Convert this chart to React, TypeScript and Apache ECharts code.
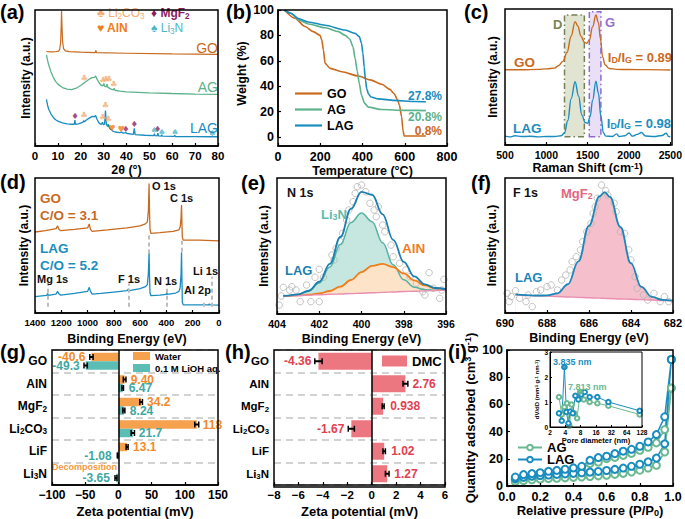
import { useEffect, useRef } from 'react';
import * as echarts from 'echarts';

const FONT = '"Liberation Sans", Arial, Helvetica, sans-serif';

const C_GO = '#c96a1e';
const C_AG = '#5db28b';
const C_LAG = '#1a8dc0';

// ---------- (a) XRD ----------
const xrdGO = [[5,69.5],[7,69.2],[9,69.3],[10.3,69.8],[10.8,71],[11.2,76],[11.45,88],[11.6,99.5],[11.8,88],[12.05,77],[12.5,71.5],[13.3,70],[15,69.4],[20,69],[26.3,68.6],[26.6,70.2],[26.9,68.6],[40,68.2],[60,67.7],[80,67.3]];
const xrdAG = [[5,67],[5.5,63],[6,59.5],[7,54.5],[8,50.5],[9,47.5],[10,45.5],[12,43],[14,41.8],[16,41.5],[18,42.5],[20,44.5],[22,47],[24,49.5],[25,50.3],[26,50.5],[26.5,51.5],[27,49.5],[28,46.5],[29,44.5],[29.8,44.5],[30.1,46],[30.4,44],[31.2,43.5],[31.5,45.5],[31.8,43.3],[33,42],[34.3,41.3],[34.6,42.5],[35,41],[37,40.3],[40,39.8],[50,39.1],[60,38.6],[70,38.2],[80,37.9]];
const xrdLAG = [[5,34.3],[5.5,30],[6,27],[7,23.5],[8,21],[9,19.3],[10,18.3],[12,17],[14,16.3],[16,16],[17.2,16],[17.45,19],[17.7,16],[19,16.3],[21,17.5],[21.3,18.8],[21.6,17.8],[23,19.8],[25,21.8],[26,21.5],[26.5,22.5],[27,20],[28,16.8],[29,15.8],[29.5,17.5],[29.9,15.6],[30.4,16],[30.8,26],[31.2,15.8],[31.7,14.3],[32,16],[32.4,13.8],[33,12.3],[33.5,12],[34,11],[35,10.3],[37,9.8],[37.8,10.2],[38.5,9.5],[39.7,9.8],[40.3,9.2],[43,8.6],[43.4,13],[43.8,8.4],[48,7.9],[51.9,7.6],[52.2,9],[52.5,7.6],[53.4,7.5],[53.7,9.5],[54,7.4],[55.1,7.3],[55.4,8.2],[55.7,7.2],[60.8,7.1],[61.1,7.8],[61.4,7],[70,6.9],[77.2,6.8],[77.5,7.3],[77.8,6.8],[80,6.8]];
const xrdLi2CO3 = [[21.6,50],[29.8,48.5],[31.1,49],[32.4,49],[34.4,45.5],[21.4,22.5],[29.6,21.5],[30.9,30],[32.1,20]];
const xrdMgF2 = [[17.5,22],[39.7,12.5],[43.4,16.5],[53.6,12.5]];
const xrdAlN = [[33.6,13.5],[37.7,12.5]];
const xrdLi3N = [[52.2,12],[55.4,10.5],[61.2,10],[77.5,9.5]];

// ---------- (b) TGA ----------
const tgaGO = [[30,100],[80,93.5],[128,87],[167,83],[199,80],[207,76.5],[215,68.5],[223,58],[247,54],[302,51.4],[381,48],[436,45],[491,41.5],[530,37.5],[550,34],[565,29.5],[575,25],[585,16],[592,5],[597,0.8],[700,0.8]];
const tgaAG = [[30,100],[60,97.5],[100,92],[144,89],[223,86],[286,83],[318,80],[340,77],[355,71],[365,62],[375,52],[385,42],[395,33],[410,26.5],[428,23.5],[491,21.6],[600,21],[700,20.8]];
const tgaLAG = [[30,100],[60,97.5],[100,93],[144,90.6],[223,88],[318,84.2],[365,81.6],[385,79],[395,74],[402,66],[408,55],[414,45],[420,38],[428,34],[440,31.5],[475,30],[550,28.8],[650,28],[700,27.8]];
const tgaResidue = ['27.8%', '20.8%', '0.8%'];

// ---------- (c) Raman ----------
const ramanGO = [[500,55.3],[700,55.3],[900,55.6],[1000,56],[1100,56.5],[1150,58.5],[1200,61.5],[1250,68],[1300,80],[1348,90.7],[1380,87.5],[1420,80],[1460,75.5],[1488,74.8],[1520,77],[1560,87],[1600,95.6],[1630,90],[1655,78],[1680,65],[1710,59],[1760,56.3],[1850,55.6],[2000,55.5],[2200,55.4],[2500,55.2]];
const ramanLAG = [[500,6.5],[560,6],[620,6.8],[700,6.2],[800,6.4],[900,6],[1000,6.3],[1100,6.2],[1180,6.8],[1220,9],[1260,18],[1300,34],[1348,46.5],[1390,36],[1430,22],[1470,16.5],[1500,15.9],[1530,21],[1560,33],[1600,47],[1630,38],[1660,21],[1690,9],[1720,6.5],[1800,6.3],[1850,8.2],[1880,6.2],[1950,6.8],[2000,8.8],[2040,6.5],[2100,7.8],[2150,9.2],[2200,6.6],[2300,6.2],[2400,7],[2450,8.6],[2480,6.2],[2500,6]];
const ramanBandD = [1220, 1460, 6.1, 95.6];
const ramanBandG = [1520, 1660, 6.1, 98];
const ramanRatio = ['0.89', '0.98'];

// ---------- (d) XPS survey ----------
const xpsGO = [[1400,60],[1320,61],[1240,62.5],[1228,64.5],[1218,62],[1205,61],[1100,62],[1000,63],[987,66],[978,62],[965,60.5],[850,61.5],[700,63],[600,64.5],[560,66],[545,67.5],[537,76],[532,96],[529,76],[525,62],[518,59],[450,59.5],[350,60.5],[305,61.5],[295,64],[289,70],[285,80],[282,66],[279,56],[272,54],[150,54],[0,53.5]];
const xpsLAG = [[1400,12.1],[1330,12.8],[1310,13],[1304,14.5],[1298,13],[1240,14],[1228,16],[1220,14.5],[1205,13.2],[1100,14.5],[1000,16],[987,19],[978,16],[965,14],[900,14.5],[800,15.5],[700,16.5],[688,17.8],[682,16.5],[600,18],[560,19.5],[545,21],[537,30],[532,45.4],[529,28],[525,15],[518,12.8],[450,13.2],[402,13.8],[398,15.5],[394,13.8],[330,14.8],[305,16],[296,18.5],[289,28],[285,45],[282,25],[279,8],[272,6],[120,6],[118,7],[116,6],[75,6],[74,7],[72,6],[57,6.2],[55,7.2],[53,6],[0,5.8]];
const xpsMarks = [[1303,4.7,20.7],[688,4.7,21.9],[531,44,57.8],[398,4.7,20.7],[284,45.4,54],[118,4.7,8.4],[55,4.7,26.9]];

// ---------- (e) N 1s ----------
const n1sBE = [403.7,403.5,403,402.5,402,401.5,401,400.5,400,399.5,399,398.5,398,397.5,397,396.5,396];
const n1sBackground = [13.2,13.3,13.6,13.9,14.2,14.5,14.7,15.0,15.3,15.6,15.9,16.2,16.5,16.7,17.0,17.3,17.6];
const n1sLi3N = [13.3,13.5,14.4,16.8,22.8,34.5,51.2,67.3,74.3,67.9,52.4,36.2,25.1,19.6,17.8,17.5,17.6];
const n1sAlN = [13.2,13.3,13.7,14.2,15.1,16.9,20.1,25.0,30.8,35.4,36.8,34.5,29.8,24.7,21.0,18.9,18.2];
const n1sEnvelope = [13.3,13.5,14.5,17.1,23.7,36.9,56.6,77.3,89.8,87.7,73.3,54.5,38.4,27.6,21.8,19.1,18.2];
const n1sRaw = [[403.9,6.6],[403.8,13.2],[403.7,19.6],[403.4,17.6],[403.3,20.1],[403.1,17.6],[402.9,9.1],[402.6,21.3],[402.4,9.1],[402.2,27],[402.0,9.1],[402.0,32.8],[401.8,27],[401.4,43.4],[401.3,39.7],[401.2,48.3],[401.0,53.2],[400.9,59.3],[400.7,69.1],[400.6,76.5],[400.4,82.6],[400.3,88.7],[400.2,93.6],[400.0,94.9],[399.8,89.9],[399.6,81.4],[399.4,76.5],[399.3,71.5],[399.2,78.9],[399.0,65.4],[398.9,60.5],[398.6,50.7],[398.5,42.1],[398.2,37.3],[397.9,32.4],[397.7,27.4],[397.4,22.6],[397.1,16.4],[397.0,14],[396.8,30.4],[396.6,18.9],[396.3,11.5],[396.1,25.5],[396.2,17.6]];

// ---------- (f) F 1s ----------
const f1sBE = [689.5,689,688.5,688,687.5,687,686.5,686,685.5,685.25,685,684.5,684,683.5,683,682.5,682];
const f1sBackground = [13.3,13.0,12.7,12.5,12.2,11.9,11.6,11.3,11.0,10.85,10.7,10.4,10.2,9.9,9.6,9.3,9.1];
const f1sEnvelope = [13.8,13.2,12.9,13.0,14.6,21.3,38.3,64.6,86.3,89.5,86.0,63.7,36.9,19.3,12.0,9.7,9.1];
const f1sRaw = [[689.9,14.6],[689.8,8.4],[689.7,12.1],[689.5,16.5],[689.3,10.9],[689.0,8.4],[688.9,13.3],[688.7,4.7],[688.5,15.8],[688.3,17],[688.0,19.5],[687.8,20.7],[687.5,17],[687.3,24.4],[687.1,28.1],[686.9,31.9],[686.8,38],[686.6,41.7],[686.4,46.7],[686.3,52.8],[686.1,60.2],[685.9,66.4],[685.8,73.8],[685.7,78.7],[685.6,85],[685.4,94.8],[685.2,90.6],[685.1,87.4],[684.8,81.3],[684.7,75],[684.5,60.2],[684.3,59],[684.1,46.7],[684.0,39.3],[683.8,26.9],[683.7,18.3],[683.4,13.3],[683.2,9.6],[682.9,14.6],[682.6,8.4],[682.4,12.1],[682.2,8.4]];

// ---------- (g) / (h) Zeta potential ----------
const materials = ['GO', 'AlN', 'MgF2', 'Li2CO3', 'LiF', 'Li3N'];
const zetaWater = [-40.6, 9.40, 34.2, 118, 13.1, null];
const zetaWaterErr = [2.5, 2, 2, 3, 1.5, 0];
const zetaWaterText = ['-40.6', '9.40', '34.2', '118', '13.1', ''];
const zetaLiOH = [-49.3, 6.47, 8.24, 21.7, -1.08, -3.65];
const zetaLiOHErr = [2.5, 1.2, 1.5, 2.5, 0.6, 1.5];
const zetaLiOHText = ['-49.3', '6.47', '8.24', '21.7', '-1.08', '-3.65'];
const zetaDMC = [-4.36, 2.76, 0.938, -1.67, 1.02, 1.27];
const zetaDMCErr = [0.3, 0.2, 0.08, 0.25, 0.1, 0.15];
const zetaDMCText = ['-4.36', '2.76', '0.938', '-1.67', '1.02', '1.27'];

// ---------- (i) BET ----------
const betP = [0.05,0.1,0.15,0.2,0.25,0.3,0.35,0.4,0.45,0.5,0.55,0.6,0.65,0.7,0.75,0.8,0.85,0.9,0.95,0.99];
const betLAGAds = [5.5,6.5,7.2,7.7,8.1,8.5,8.9,9.3,9.7,10.2,10.7,11.4,12.2,13.2,14.5,16.0,17.8,20.5,31,93];
const betLAGDes = [6.6,8.4,9.1,9.8,10.8,11.5,12.3,13.3,14.5,18.9,20.9,21.9,23.8,25.6,27,29.2,32.4,37.8,50.9,93];
const betAGAds = [3,4,4.6,5.0,5.4,5.7,6.0,6.3,6.6,7.0,7.4,7.9,8.5,9.3,10.3,11.6,13.2,15.2,25,72];
const betAGDes = [4.8,6.3,7.3,8.0,8.8,9.6,10.4,11.2,12.8,16.5,17.5,20.1,21,22.5,24,26.3,28.5,31.7,41.5,72];
const psdLAG = [[3.0,0.55],[3.4,0.25],[3.835,2.4],[4.2,0.6],[4.6,0.15],[5.0,0.62],[5.6,0.55],[6.3,1.25],[7.2,1.1],[8.2,1.3],[9.6,1.4],[12,1.2],[17,1.2],[28,1.0],[115,0.65]];
const psdAG = [[3.0,1.2],[3.4,0.5],[3.835,0.8],[4.3,0.95],[4.8,0.05],[5.3,0.9],[6.0,0.55],[6.8,0.35],[7.813,1.4],[9.2,1.1],[12,1.0],[17,0.95],[28,0.85],[115,0.5]];
const psdPeaks = [['3.835 nm', 3.835, 2.4], ['7.813 nm', 7.813, 1.4]];

// ---------- layout ----------
const boxes = [
  [35, 10, 183, 136],
  [278, 10, 169, 136],
  [505, 9, 167, 136],
  [35, 178, 184, 135],
  [277, 178, 169, 136],
  [505, 178, 168, 135],
  [52, 350, 166, 135],
  [274, 350, 171, 137],
  [507, 350, 166, 136],
  [550, 352, 92, 75],
];

const pair = (xs: number[], ys: number[]) => xs.map((x, i) => [x, ys[i]]);
const minus = (v: number) => (v < 0 ? '\u2212' + Math.abs(v) : String(v));

const richSS = (size: number) => ({
  sup: { fontSize: size * 0.7, lineHeight: size * 0.7, verticalAlign: 'top', fontWeight: 'bold', fontFamily: FONT, color: '#000' },
  sub: { fontSize: size * 0.7, lineHeight: size * 0.7, verticalAlign: 'bottom', fontWeight: 'bold', fontFamily: FONT, color: '#000' },
});

function xAxis(gi: number, min: number, max: number, interval: number, fs: number, name: string, nameGap: number, extra: any = {}) {
  return {
    type: 'value', gridIndex: gi, min, max, interval, name, nameLocation: 'middle', nameGap,
    nameTextStyle: { fontSize: extra.nameSize || 12.5, fontWeight: 'bold', fontFamily: FONT, color: '#000', lineHeight: 14, rich: richSS(extra.nameSize || 12.5) },
    axisLine: { show: true, onZero: false, lineStyle: { color: '#000', width: 1.5 } },
    axisTick: { show: true, inside: true, length: 3, lineStyle: { color: '#000', width: 1.2 } },
    axisLabel: { color: '#000', fontSize: fs, fontWeight: 'bold', fontFamily: FONT, margin: 4, formatter: extra.formatter || minus },
    splitLine: { show: false },
    z: 5,
    ...(extra.more || {}),
  };
}
function yHidden(gi: number, name: string, nameGap: number, fs = 12) {
  return {
    type: 'value', gridIndex: gi, min: 0, max: 100, name, nameLocation: 'middle', nameGap,
    nameTextStyle: { fontSize: fs, fontWeight: 'bold', fontFamily: FONT, color: '#000' },
    axisLine: { show: false }, axisTick: { show: false }, axisLabel: { show: false }, splitLine: { show: false },
  };
}
function yValue(gi: number, min: number, max: number, interval: number, fs: number, name: string, nameGap: number, nameSize: number) {
  return {
    type: 'value', gridIndex: gi, min, max, interval, name, nameLocation: 'middle', nameGap,
    nameTextStyle: { fontSize: nameSize, fontWeight: 'bold', fontFamily: FONT, color: '#000', lineHeight: nameSize + 2, rich: richSS(nameSize) },
    axisLine: { show: true, lineStyle: { color: '#000', width: 1.5 } },
    axisTick: { show: true, inside: true, length: 3, lineStyle: { color: '#000', width: 1.2 } },
    axisLabel: { color: '#000', fontSize: fs, fontWeight: 'bold', fontFamily: FONT, margin: 4 },
    splitLine: { show: false }, z: 5,
  };
}
function yCategory(gi: number, fs: number) {
  return {
    type: 'category', gridIndex: gi, data: materials, inverse: true,
    axisLine: { show: false }, axisTick: { show: false },
    axisLabel: {
      color: '#000', fontSize: fs, fontWeight: 'bold', fontFamily: FONT, margin: 5, lineHeight: 14,
      formatter: (v: string) => v.replace(/(\d)/g, '{s|$1}'),
      rich: { s: { fontSize: fs * 0.68, lineHeight: fs * 0.68, verticalAlign: 'bottom', fontWeight: 'bold', fontFamily: FONT, color: '#000' } },
    },
    splitLine: { show: true, lineStyle: { color: '#c4c4c4', width: 1.5, type: [7, 5] } },
  };
}

const line = (gi: number, data: any, color: string, extra: any = {}) => ({
  type: 'line', xAxisIndex: gi, yAxisIndex: gi, data, symbol: 'none', showSymbol: false,
  lineStyle: { color, width: 1.4 }, itemStyle: { color }, z: 4, silent: true, ...extra,
});
const area = (gi: number, data: any, color: string) => ({
  type: 'line', xAxisIndex: gi, yAxisIndex: gi, data, symbol: 'none', showSymbol: false, smooth: 0.4, smoothMonotone: 'x',
  lineStyle: { width: 0, opacity: 0 }, areaStyle: { color, opacity: 1, origin: 'start' }, z: 1, silent: true,
});
const glyph = (gi: number, data: any, g: string, color: string) => ({
  type: 'scatter', xAxisIndex: gi, yAxisIndex: gi, data, symbolSize: 1, itemStyle: { color: 'rgba(0,0,0,0)' }, z: 6, silent: true,
  label: { show: true, position: 'inside', formatter: g, color, fontSize: 8.5, fontFamily: '"DejaVu Sans", sans-serif' },
});
const rawPts = (gi: number, data: any) => ({
  type: 'scatter', xAxisIndex: gi, yAxisIndex: gi, data, symbol: 'circle', symbolSize: 6.5, z: 2, silent: true,
  itemStyle: { color: 'rgba(255,255,255,0)', borderColor: '#b4b4b4', borderWidth: 1 },
});
const errBars = (gi: number, vals: any[], errs: number[], offset: number) => ({
  type: 'custom', xAxisIndex: gi, yAxisIndex: gi, z: 6, silent: true,
  data: vals.map((v, i) => (v == null ? null : [v, i, errs[i], offset])).filter((d) => d != null),
  encode: { x: 0, y: 1 },
  renderItem: (_p: any, api: any) => {
    const v = api.value(0), c = api.value(1), e = api.value(2), off = api.value(3);
    const a = api.coord([v - e, c]);
    const b = api.coord([v + e, c]);
    const y = a[1] + off;
    const h = 3;
    return {
      type: 'group',
      children: [
        { type: 'line', shape: { x1: a[0], y1: y, x2: b[0], y2: y }, style: { stroke: '#000', lineWidth: 2 } },
        { type: 'line', shape: { x1: a[0], y1: y - h, x2: a[0], y2: y + h }, style: { stroke: '#000', lineWidth: 1.5 } },
        { type: 'line', shape: { x1: b[0], y1: y - h, x2: b[0], y2: y + h }, style: { stroke: '#000', lineWidth: 1.5 } },
      ],
    };
  },
});
const barData = (vals: any[], texts: string[]) =>
  vals.map((v, i) => (v == null ? '-' : { value: v, label: { position: v < 0 ? 'left' : 'right', formatter: texts[i] } }));
const zeroLine = {
  silent: true, symbol: ['none', 'none'], label: { show: false },
  lineStyle: { color: '#000', width: 1.5, type: 'solid' }, data: [{ xAxis: 0 }],
};

const txt = (x: number, y: number, t: string, fill: string, size: number, opt: any = {}) => ({
  type: 'text', x, y, z: 60, silent: true,
  style: {
    text: t, fill, fontSize: size, fontWeight: opt.weight || 'bold', fontFamily: FONT,
    align: opt.align || 'left', verticalAlign: 'middle', lineHeight: size * 1.2,
    rich: {
      s: { fontSize: size * 0.68, lineHeight: size * 0.68, verticalAlign: 'bottom', fill, fontWeight: opt.weight || 'bold', fontFamily: FONT },
    },
  },
});
const frame = (b: number[], lw = 1.5) => ({
  type: 'rect', z: 80, silent: true, shape: { x: b[0], y: b[1], width: b[2], height: b[3] },
  style: { fill: 'none', stroke: '#000', lineWidth: lw },
});

function buildOption() {
  const grids = boxes.map((b, i) => ({
    left: b[0], top: b[1], width: b[2], height: i === 1 ? 127 : b[3], containLabel: false,
  }));

  const xAxes = [
    xAxis(0, 0, 80, 10, 11.5, '2\u03b8 (\u00b0)', 16),
    xAxis(1, 0, 800, 200, 12.5, 'Temperature (\u00b0C)', 15, { more: { offset: 9 } }),
    xAxis(2, 500, 2500, 500, 10.5, 'Raman Shift (cm{sup|-1})', 16),
    xAxis(3, 0, 1400, 200, 9.5, 'Binding Energy (eV)', 19, { more: { inverse: true } }),
    xAxis(4, 396, 404, 2, 10.5, 'Binding Energy (eV)', 18, { more: { inverse: true } }),
    xAxis(5, 682, 690, 2, 11, 'Binding Energy (eV)', 18, { more: { inverse: true } }),
    xAxis(6, -100, 150, 50, 12, 'Zeta potential (mV)', 19, { nameSize: 13 }),
    xAxis(7, -8, 6, 2, 11.5, 'Zeta potential (mV)', 19, { nameSize: 13 }),
    xAxis(8, 0, 1, 0.2, 12.5, 'Relative pressure (P/P{sub|0})', 17, { nameSize: 13, formatter: (v: number) => v.toFixed(1) }),
    {
      type: 'log', logBase: 2, gridIndex: 9, min: 2, max: 128, splitNumber: 6,
      name: 'Pore diameter (nm)', nameLocation: 'middle', nameGap: 9,
      nameTextStyle: { fontSize: 7.5, fontWeight: 'bold', fontFamily: FONT, color: '#000' },
      axisLine: { show: true, lineStyle: { color: '#000', width: 1 } },
      axisTick: { show: true, inside: true, length: 2, lineStyle: { color: '#000' } },
      axisLabel: { color: '#000', fontSize: 6.5, fontWeight: 'bold', fontFamily: FONT, margin: 2 },
      splitLine: { show: false }, minorTick: { show: false },
    },
  ];
  const yAxes = [
    yHidden(0, 'Intensity (a.u.)', 3),
    yValue(1, 0, 100, 20, 12.5, 'Weight (%)', 22, 12.5),
    yHidden(2, 'Intensity (a.u.)', 6),
    yHidden(3, 'Intensity (a.u.)', 5),
    yHidden(4, 'Intensity (a.u.)', 7),
    yHidden(5, 'Intensity (a.u.)', 7),
    yCategory(6, 12),
    yCategory(7, 11.5),
    yValue(8, 0, 100, 20, 12.5, 'Quantity adsorbed (cm{sup|3} g{sup|-1})', 19, 13),
    {
      type: 'value', gridIndex: 9, min: 0, max: 3, interval: 1,
      name: 'dV/dD (mm{sup|3} g{sup|-1} nm{sup|-1})', nameLocation: 'middle', nameGap: 7,
      nameTextStyle: { fontSize: 6, fontWeight: 'bold', fontFamily: FONT, color: '#000', rich: richSS(6) },
      axisLine: { show: true, lineStyle: { color: '#000', width: 1 } },
      axisTick: { show: true, inside: true, length: 2, lineStyle: { color: '#000' } },
      axisLabel: { color: '#000', fontSize: 6.5, fontWeight: 'bold', fontFamily: FONT, margin: 2 },
      splitLine: { show: false },
    },
  ];

  const series: any[] = [
    // (a)
    line(0, xrdGO, C_GO, { lineStyle: { color: C_GO, width: 1.2 } }),
    line(0, xrdAG, C_AG, { lineStyle: { color: C_AG, width: 1.3 } }),
    line(0, xrdLAG, C_LAG, { lineStyle: { color: C_LAG, width: 1.3 } }),
    glyph(0, xrdLi2CO3, '\u2663', '#f2ad72'),
    glyph(0, xrdMgF2, '\u2666', '#8c1d5f'),
    glyph(0, xrdAlN, '\u2665', '#f07b18'),
    glyph(0, xrdLi3N, '\u2660', '#4db6c6'),
    // (b)
    line(1, tgaGO, C_GO, { name: 'GO', smooth: 0.25, smoothMonotone: 'x', lineStyle: { color: C_GO, width: 1.6 } }),
    line(1, tgaAG, C_AG, { name: 'AG', smooth: 0.25, smoothMonotone: 'x', lineStyle: { color: C_AG, width: 1.6 } }),
    line(1, tgaLAG, C_LAG, { name: 'LAG', smooth: 0.25, smoothMonotone: 'x', lineStyle: { color: C_LAG, width: 1.6 } }),
    // (c)
    line(2, ramanGO, C_GO, {
      smooth: 0.4, smoothMonotone: 'x', lineStyle: { color: C_GO, width: 1.4 },
      markArea: {
        silent: true,
        data: [
          [
            { xAxis: ramanBandD[0], yAxis: ramanBandD[2], itemStyle: { color: '#e2e4d2', borderColor: '#75805a', borderWidth: 1.5, borderType: [6, 3, 1.5, 3] } },
            { xAxis: ramanBandD[1], yAxis: ramanBandD[3] },
          ],
          [
            { xAxis: ramanBandG[0], yAxis: ramanBandG[2], itemStyle: { color: '#e9e0f8', borderColor: '#8f6bd0', borderWidth: 1.5, borderType: [6, 3, 1.5, 3] } },
            { xAxis: ramanBandG[1], yAxis: ramanBandG[3] },
          ],
        ],
      },
    }),
    line(2, ramanLAG, C_LAG, { smooth: 0.4, smoothMonotone: 'x', lineStyle: { color: C_LAG, width: 1.4 } }),
    // (d)
    line(3, xpsGO, C_GO, { lineStyle: { color: C_GO, width: 1.3 } }),
    line(3, xpsLAG, C_LAG, {
      lineStyle: { color: C_LAG, width: 1.3 },
      markLine: {
        silent: true, symbol: ['none', 'none'], label: { show: false },
        lineStyle: { color: '#bdbdbd', width: 2, type: [4, 3] },
        data: xpsMarks.map((m) => [{ coord: [m[0], m[1]] }, { coord: [m[0], m[2]] }]),
      },
    }),
    // (e)
    area(4, pair(n1sBE, n1sLi3N), '#c6e7df'),
    area(4, pair(n1sBE, n1sAlN), '#fde3c8'),
    area(4, pair(n1sBE, n1sBackground), '#ffffff'),
    rawPts(4, n1sRaw),
    line(4, pair(n1sBE, n1sLi3N), '#55b3a3', { smooth: 0.4, smoothMonotone: 'x', lineStyle: { color: '#55b3a3', width: 1.5 } }),
    line(4, pair(n1sBE, n1sAlN), '#f07d1a', { smooth: 0.4, smoothMonotone: 'x', lineStyle: { color: '#f07d1a', width: 1.8 } }),
    line(4, pair(n1sBE, n1sBackground), '#ea8db0', { smooth: 0.4, smoothMonotone: 'x', lineStyle: { color: '#ea8db0', width: 1.4 } }),
    line(4, pair(n1sBE, n1sEnvelope), '#1b7fb0', { smooth: 0.4, smoothMonotone: 'x', lineStyle: { color: '#1b7fb0', width: 1.8 } }),
    // (f)
    area(5, pair(f1sBE, f1sEnvelope), '#f5c0cc'),
    area(5, pair(f1sBE, f1sBackground), '#ffffff'),
    rawPts(5, f1sRaw),
    line(5, pair(f1sBE, f1sBackground), '#ea8db0', { smooth: 0.4, smoothMonotone: 'x', lineStyle: { color: '#ea8db0', width: 1.4 } }),
    line(5, pair(f1sBE, f1sEnvelope), '#1b86b8', { smooth: 0.4, smoothMonotone: 'x', lineStyle: { color: '#1b86b8', width: 1.8 } }),
    // (g)
    {
      type: 'bar', name: 'Water', xAxisIndex: 6, yAxisIndex: 6, barWidth: 8.5, barGap: '0%', silent: true,
      data: barData(zetaWater, zetaWaterText), itemStyle: { color: '#f6a14e' },
      label: { show: true, color: '#f28a2c', fontSize: 12, fontWeight: 'bold', fontFamily: FONT, distance: 6 },
      markLine: zeroLine,
    },
    {
      type: 'bar', name: '0.1 M LiOH aq.', xAxisIndex: 6, yAxisIndex: 6, barWidth: 8.5, barGap: '0%', silent: true,
      data: barData(zetaLiOH, zetaLiOHText), itemStyle: { color: '#5cbdb4' },
      label: { show: true, color: '#3ea8a4', fontSize: 12, fontWeight: 'bold', fontFamily: FONT, distance: 6 },
    },
    errBars(6, zetaWater, zetaWaterErr, -4.25),
    errBars(6, zetaLiOH, zetaLiOHErr, 4.25),
    // (h)
    {
      type: 'bar', name: 'DMC', xAxisIndex: 7, yAxisIndex: 7, barWidth: 17, silent: true,
      data: barData(zetaDMC, zetaDMCText), itemStyle: { color: '#ec7780' },
      label: { show: true, color: '#e2404e', fontSize: 12, fontWeight: 'bold', fontFamily: FONT, distance: 7 },
      markLine: zeroLine,
    },
    errBars(7, zetaDMC, zetaDMCErr, 0),
    // (i)
    line(8, [...pair(betP, betAGAds), ...pair(betP, betAGDes).reverse()], C_AG, {
      name: 'AG_i', symbol: 'emptyCircle', showSymbol: true, symbolSize: 7,
      lineStyle: { color: '#6ab991', width: 1.5 }, itemStyle: { color: '#6ab991', borderWidth: 1.5 },
    }),
    line(8, [...pair(betP, betLAGAds), ...pair(betP, betLAGDes).reverse()], C_LAG, {
      name: 'LAG_i', symbol: 'emptyCircle', showSymbol: true, symbolSize: 7,
      lineStyle: { color: C_LAG, width: 1.5 }, itemStyle: { color: C_LAG, borderWidth: 1.5 },
    }),
    line(9, psdAG, '#6ab991', { symbol: 'emptyCircle', showSymbol: true, symbolSize: 4.5, lineStyle: { color: '#6ab991', width: 1 }, itemStyle: { color: '#6ab991', borderWidth: 1 } }),
    line(9, psdLAG, C_LAG, { symbol: 'emptyCircle', showSymbol: true, symbolSize: 4.5, lineStyle: { color: C_LAG, width: 1 }, itemStyle: { color: C_LAG, borderWidth: 1 } }),
    {
      type: 'scatter', xAxisIndex: 9, yAxisIndex: 9, symbolSize: 6, z: 6, silent: true,
      data: psdPeaks.map((p, i) => ({ value: [p[1], p[2]], itemStyle: { color: i === 0 ? C_LAG : '#6ab991' } })),
    },
  ];

  const graphic = [
    ...boxes.map((b, i) => frame(b, i === 9 ? 1 : 1.5)),
    // panel letters
    txt(0, 12, '(a)', '#000', 20), txt(226, 12, '(b)', '#000', 20), txt(464, 12, '(c)', '#000', 20),
    txt(0, 182, '(d)', '#000', 20), txt(241, 183, '(e)', '#000', 20), txt(471, 183, '(f)', '#000', 20),
    txt(0, 352, '(g)', '#000', 20), txt(225, 352, '(h)', '#000', 20), txt(448, 352, '(i)', '#000', 20),
    // (a)
    txt(97, 13, '\u2663 Li{s|2}CO{s|3}', '#f2ad72', 12, { weight: 'normal' }),
    txt(151, 13, '\u2666 MgF{s|2}', '#8c1d5f', 12),
    txt(97, 28, '\u2665 AlN', '#f07b18', 12),
    txt(151, 28, '\u2660 Li{s|3}N', '#4db6c6', 12, { weight: 'normal' }),
    txt(218, 48, 'GO', C_GO, 14, { align: 'right', weight: 'normal' }),
    txt(218, 87, 'AG', C_AG, 14, { align: 'right', weight: 'normal' }),
    txt(218, 128, 'LAG', C_LAG, 14, { align: 'right', weight: 'normal' }),
    // (b)
    txt(442, 96, tgaResidue[0], C_LAG, 12, { align: 'right' }),
    txt(442, 117, tgaResidue[1], C_AG, 12, { align: 'right' }),
    txt(442, 131, tgaResidue[2], C_GO, 12, { align: 'right' }),
    // (c)
    txt(553, 24, 'D', '#7a8452', 13),
    txt(605, 22, 'G', '#9470d0', 13),
    txt(514, 62, 'GO', C_GO, 13.5),
    txt(672, 57, 'I{s|D}/I{s|G} = ' + ramanRatio[0], C_GO, 13, { align: 'right' }),
    txt(513, 128, 'LAG', C_LAG, 13.5),
    txt(671, 123, 'I{s|D}/I{s|G} = ' + ramanRatio[1], C_LAG, 13, { align: 'right' }),
    // (d)
    txt(40, 198, 'GO', C_GO, 13.5),
    txt(40, 215, 'C/O = 3.1', C_GO, 13.5),
    txt(40, 248, 'LAG', C_LAG, 13.5),
    txt(40, 265, 'C/O = 5.2', C_LAG, 13.5),
    txt(152, 186, 'O 1s', '#111', 11),
    txt(170, 197.5, 'C 1s', '#111', 11),
    txt(37, 279, 'Mg 1s', '#111', 11),
    txt(118, 279, 'F 1s', '#111', 11),
    txt(154, 281, 'N 1s', '#111', 11),
    txt(193, 271, 'Li 1s', '#111', 11),
    txt(184, 290, 'Al 2p', '#111', 11),
    // (e)
    txt(287, 193, 'N 1s', '#111', 12.5),
    txt(321, 214, 'Li{s|3}N', '#5dbcaa', 13),
    txt(402, 248, 'AlN', '#f07d1a', 13.5),
    txt(285, 270, 'LAG', '#1b7fb0', 13),
    // (f)
    txt(513, 193, 'F 1s', '#111', 12.5),
    txt(561, 193, 'MgF{s|2}', '#e2667f', 13),
    txt(515, 277, 'LAG', '#1b86b8', 13),
    // (g)
    txt(117, 467, 'Decomposition', '#f5993f', 9, { align: 'right' }),
    // (i)
    txt(553, 362, psdPeaks[0][0] as string, C_LAG, 9),
    txt(568, 387, psdPeaks[1][0] as string, '#6ab991', 9),
  ];

  const legendText = (fs: number, lh: number) => ({ fontSize: fs, fontWeight: 'bold', fontFamily: FONT, color: '#000', lineHeight: lh });

  return {
    animation: false,
    backgroundColor: '#ffffff',
    textStyle: { fontFamily: FONT },
    grid: grids,
    xAxis: xAxes,
    yAxis: yAxes,
    legend: [
      { data: ['GO', 'AG', 'LAG'], left: 295, top: 87, orient: 'vertical', icon: 'rect', itemWidth: 27, itemHeight: 2.2, itemGap: 3, padding: 0, textStyle: legendText(12.5, 12), selectedMode: false },
      { data: ['Water', '0.1 M LiOH aq.'], left: 133, top: 351, orient: 'vertical', icon: 'rect', itemWidth: 17, itemHeight: 8, itemGap: 2, padding: 0, textStyle: legendText(9.5, 8), selectedMode: false },
      { data: ['DMC'], left: 382, top: 354.5, icon: 'rect', itemWidth: 25, itemHeight: 11, padding: 0, textStyle: legendText(13, 11), selectedMode: false },
      { data: ['AG_i'], left: 517, top: 441, itemWidth: 24, itemHeight: 7, padding: 0, textStyle: legendText(13, 11), selectedMode: false, formatter: (n: string) => n.replace('_i', '') },
      { data: ['LAG_i'], left: 517, top: 453, itemWidth: 24, itemHeight: 7, padding: 0, textStyle: legendText(13, 11), selectedMode: false, formatter: (n: string) => n.replace('_i', '') },
    ],
    series,
    graphic: { elements: graphic },
  };
}

export default function App() {
  const ref = useRef<HTMLDivElement>(null);
  useEffect(() => {
    if (!ref.current) return;
    const chart = echarts.init(ref.current, null, { renderer: 'svg' });
    chart.setOption(buildOption() as any);
    return () => chart.dispose();
  }, []);
  return <div ref={ref} style={{ position: 'absolute', left: 0, top: 0, width: 685, height: 519, background: '#fff' }} />;
}
